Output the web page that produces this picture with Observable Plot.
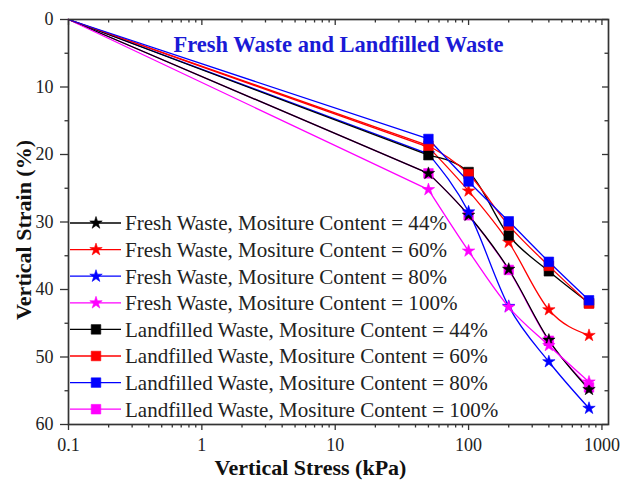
<!DOCTYPE html>
<html><head><meta charset="utf-8">
<script src="https://cdn.jsdelivr.net/npm/d3@7"></script>
<script src="https://cdn.jsdelivr.net/npm/@observablehq/plot@0.6"></script>
<style>body{margin:0;background:#fff} svg{display:block}</style>
</head><body><div id="chart"></div>
<script>
// ---- data ----
const stress = [0.1, 50, 100, 200, 400, 800];
const fresh44  = [0, 22.8, 29.0, 37.0, 47.5, 54.8];
const fresh60  = [0, 18.9, 25.4, 33.0, 43.0, 46.8];
const fresh80  = [0, 19.9, 28.5, 42.5, 50.7, 57.6];
const fresh100 = [0, 25.2, 34.3, 42.6, 48.3, 53.7];
const land44   = [0, 20.1, 22.6, 32.0, 37.3, 42.0];
const land60   = [0, 18.7, 22.9, 30.5, 36.5, 42.1];
const land80   = [0, 17.7, 24.0, 29.9, 35.9, 41.6];
const land100  = [0, 22.8, 29.0, 37.1, 47.6, 54.5];

const seriesNames = [
  "Fresh Waste, Mositure Content = 44%",
  "Fresh Waste, Mositure Content = 60%",
  "Fresh Waste, Mositure Content = 80%",
  "Fresh Waste, Mositure Content = 100%",
  "Landfilled Waste, Mositure Content = 44%",
  "Landfilled Waste, Mositure Content = 60%",
  "Landfilled Waste, Mositure Content = 80%",
  "Landfilled Waste, Mositure Content = 100%"
];
const seriesValues = [fresh44, fresh60, fresh80, fresh100, land44, land60, land80, land100];
const seriesColors = ["#000000", "#ff0000", "#0000ff", "#ff00ff", "#000000", "#ff0000", "#0000ff", "#ff00ff"];
const seriesSymbols = ["star", "star", "star", "star", "square", "square", "square", "square"];
const drawOrder = [7, 0, 1, 2, 3, 4, 5, 6];

const titleText = "Fresh Waste and Landfilled Waste";
const xLabel = "Vertical Stress (kPa)";
const yLabel = "Vertical Strain (%)";
const xTicks = [0.1, 1, 10, 100, 1000];
const xTickLabels = ["0.1", "1", "10", "100", "1000"];
const yTicks = [0, 10, 20, 30, 40, 50, 60];
const yMinor = [5, 15, 25, 35, 45, 55];
const xMinor = [];
for (const dec of [0.1, 1, 10, 100]) for (let k = 2; k <= 9; k++) xMinor.push(+(dec * k).toPrecision(3));

// ---- layout ----
const W = 621, H = 482, ML = 68, MR = 13, MT = 19, MB = 58;
const plotH = H - MT - MB;
const plotW = W - ML - MR;
const serif = "'Liberation Serif', 'DejaVu Serif', serif";

const rows = [];
drawOrder.forEach(i => stress.forEach((s, j) => rows.push({series: i, x: s, y: seriesValues[i][j]})));

const lineMarks = drawOrder.flatMap(i => {
  const pts = rows.filter(r => r.series === i);
  return [
    Plot.line(pts.slice(0, 2), {x: "x", y: "y", stroke: seriesColors[i], strokeWidth: 1.3}),
    Plot.line(pts.slice(1), {x: "x", y: "y", stroke: seriesColors[i], strokeWidth: 1.3, curve: "monotone-x"})
  ];
});
const dotMarks = drawOrder.map(i =>
  Plot.dot(rows.filter(r => r.series === i && r.x > 0.1), {x: "x", y: "y", fill: seriesColors[i], stroke: seriesColors[i], strokeWidth: 0.6,
    symbol: seriesSymbols[i], r: seriesSymbols[i] === "star" ? 3.9 : 5.4}));

const tickStyle = {stroke: "#333", strokeWidth: 1.3};
const chart = Plot.plot({
  width: W, height: H,
  marginLeft: ML, marginRight: MR, marginTop: MT, marginBottom: MB,
  style: {fontFamily: serif, fontSize: "18px", color: "#222", background: "#fff"},
  x: {type: "log", domain: [0.1, 1120]},
  y: {domain: [0, 60], reverse: true},
  marks: [
    Plot.axisX(xTicks, {tickSize: 6, tickPadding: 8, tickFormat: d => xTickLabels[xTicks.indexOf(d)], fontSize: 18, label: null, ...tickStyle}),
    Plot.axisX(xMinor, {tickSize: 3.5, tickFormat: () => "", label: null, ...tickStyle}),
    Plot.axisY(yTicks, {tickSize: 8, tickPadding: 7, fontSize: 18, label: null, ...tickStyle}),
    Plot.axisY(yMinor, {tickSize: 3.5, tickFormat: () => "", label: null, ...tickStyle}),
    // mirrored inner ticks on top and right
    Plot.tickX(xTicks, {x: d => d, insetBottom: plotH - 6, ...tickStyle}),
    Plot.tickX(xMinor, {x: d => d, insetBottom: plotH - 3.5, ...tickStyle}),
    Plot.tickY(yTicks, {y: d => d, insetLeft: plotW - 6, ...tickStyle}),
    Plot.tickY(yMinor, {y: d => d, insetLeft: plotW - 3.5, ...tickStyle}),
    ...lineMarks,
    ...dotMarks,
    Plot.frame({stroke: "#333", strokeWidth: 1.7}),
    Plot.text([titleText], {frameAnchor: "top", lineAnchor: "middle", dy: 25, fill: "#1a1ad6", fontWeight: "bold", fontSize: 22.5}),
    Plot.text([xLabel], {frameAnchor: "bottom", lineAnchor: "middle", textAnchor: "middle", dx: -28, dy: 43, fill: "#111", fontWeight: "bold", fontSize: 22}),
    Plot.text([yLabel], {frameAnchor: "left", lineAnchor: "middle", textAnchor: "middle", dx: -45, dy: 8, rotate: -90, fill: "#111", fontWeight: "bold", fontSize: 22})
  ]
});

document.getElementById("chart").appendChild(chart);

// ---- legend inside the plot ----
const svg = d3.select(chart);
const leg = svg.append("g").attr("font-family", serif).attr("font-size", 20).attr("fill", "#222").attr("text-anchor", "start");
const y0 = 223, dyRow = 26.6;
const texts = [];
seriesNames.forEach((name, i) => {
  const yy = y0 + i * dyRow;
  leg.append("line").attr("x1", 70).attr("x2", 121).attr("y1", yy).attr("y2", yy)
    .attr("stroke", seriesColors[i]).attr("stroke-width", 1.3);
  const sym = seriesSymbols[i] === "star" ? d3.symbolStar : d3.symbolSquare;
  const rr = seriesSymbols[i] === "star" ? 3.9 : 5.4;
  leg.append("path").attr("d", d3.symbol(sym, rr * rr * Math.PI)())
    .attr("transform", `translate(96,${yy})`).attr("fill", seriesColors[i]).attr("stroke", seriesColors[i]).attr("stroke-width", 0.6);
  texts.push(leg.append("text").attr("x", 125).attr("y", yy).attr("dy", "0.35em").text(name));
});
// fit legend font so the first entry is as wide as in the reference (~322px)
const len0 = texts[0].node().getComputedTextLength();
if (len0 > 0) leg.attr("font-size", Math.min(22, 20 * 322 / len0));
</script>
</body></html>
